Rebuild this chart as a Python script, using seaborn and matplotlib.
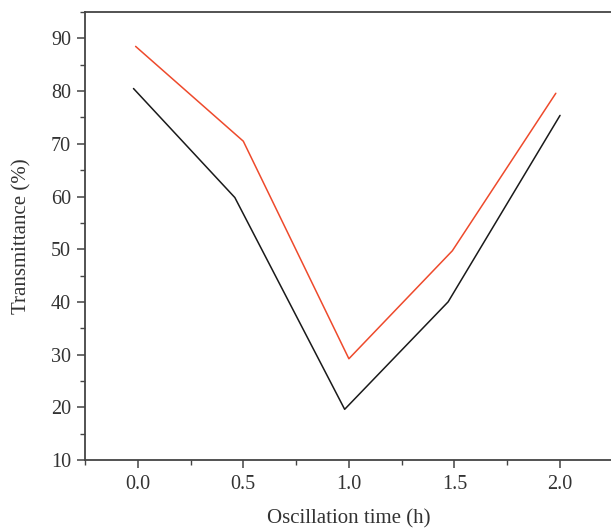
import pandas as pd
import seaborn as sns
import matplotlib.pyplot as plt
from matplotlib.ticker import MultipleLocator

# oscillation time (h) and transmittance (%)
black_time = [-0.02, 0.46, 0.98, 1.47, 2.0]
black_trans = [80.5, 59.8, 19.6, 40.0, 75.4]
red_time = [-0.01, 0.50, 1.0, 1.49, 1.98]
red_trans = [88.5, 70.5, 29.2, 49.7, 79.6]

df = pd.concat([
    pd.DataFrame({"time": black_time, "trans": black_trans, "series": "black"}),
    pd.DataFrame({"time": red_time, "trans": red_trans, "series": "red"}),
])

sns.set_style("ticks")
plt.rcParams['font.family'] = ['Liberation Serif', 'DejaVu Serif']

fig = plt.figure(figsize=(6.11, 5.28), dpi=100)
ax = fig.add_axes([0.139, 0.129, 0.864, 0.848])

sns.lineplot(data=df, x="time", y="trans", hue="series", sort=False,
             palette={"black": "#1a1a1a", "red": "#ee4a2c"},
             linewidth=1.1, legend=False, ax=ax)

ax.set_xlim(-0.25, 2.25)
ax.set_ylim(10, 95)
ax.xaxis.set_major_locator(MultipleLocator(0.5))
ax.xaxis.set_minor_locator(MultipleLocator(0.25))
ax.yaxis.set_major_locator(MultipleLocator(10))
ax.yaxis.set_minor_locator(MultipleLocator(5))
ax.set_yticks([10, 20, 30, 40, 50, 60, 70, 80, 90])
ax.xaxis.set_major_formatter(lambda v, p: f"{v:.1f}")

for s in ax.spines.values():
    s.set_color("#444444")
    s.set_linewidth(1.3)
ax.spines["right"].set_visible(False)

ax.tick_params(which="major", direction="out", length=6, width=1.1, color="#444444",
               labelsize=14.5, labelcolor="#333333", top=False, right=False)
ax.tick_params(which="minor", direction="out", length=3.5, width=1.0, color="#444444",
               top=False, right=False)
ax.tick_params(axis="x", pad=5)
ax.tick_params(axis="y", pad=4)

ax.set_xlabel("Oscillation time (h)", fontsize=15, color="#333333", labelpad=11)
ax.set_ylabel("Transmittance (%)", fontsize=15, color="#333333", labelpad=14)

fig.savefig("out.png", dpi=100)
